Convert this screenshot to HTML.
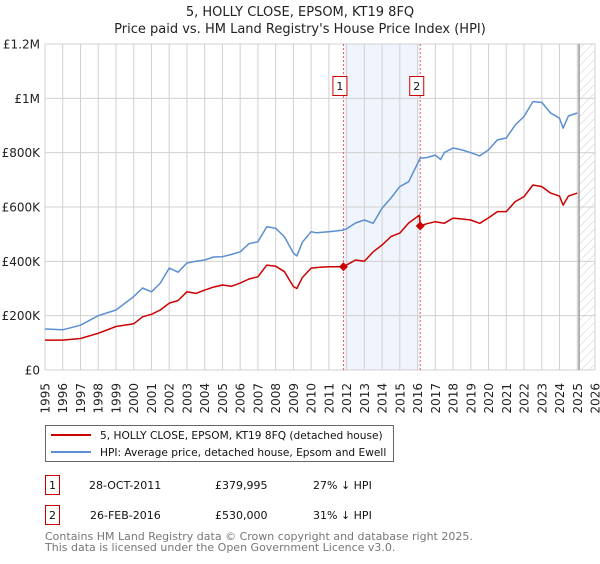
<!DOCTYPE html>
<html><head><meta charset="utf-8">
<style>
body{margin:0;background:#fff;width:600px;height:560px;overflow:hidden;font-family:"DejaVu Sans","Liberation Sans",sans-serif;}
svg text{font-family:"DejaVu Sans","Liberation Sans",sans-serif;}
</style></head>
<body>
<svg id="chart" width="600" height="560">
<defs>
<pattern id="hatch" width="6" height="6" patternUnits="userSpaceOnUse" patternTransform="rotate(45)">
<line x1="0" y1="0" x2="0" y2="6" stroke="#ccc" stroke-width="1"/>
</pattern>
</defs>
<text x="300" y="16" text-anchor="middle" font-size="13" fill="#222">5, HOLLY CLOSE, EPSOM, KT19 8FQ</text>
<text x="300" y="33" text-anchor="middle" font-size="13" fill="#222">Price paid vs. HM Land Registry's House Price Index (HPI)</text>
<g id="grid"></g>
<g id="marks"></g>
<g id="axes"></g>
<g>
<rect x="45.5" y="425.5" width="348" height="36" fill="#fff" stroke="#666"/>
<line x1="51" y1="435" x2="91" y2="435" stroke="#cc0000" stroke-width="2"/>
<text x="100" y="439" font-size="10.6" fill="#111">5, HOLLY CLOSE, EPSOM, KT19 8FQ (detached house)</text>
<line x1="51" y1="452" x2="91" y2="452" stroke="#5b8fd0" stroke-width="2"/>
<text x="100" y="456" font-size="10.6" fill="#111">HPI: Average price, detached house, Epsom and Ewell</text>
</g>
<g font-size="11" fill="#111">
<rect x="45.5" y="475.5" width="14" height="19" fill="#fff" stroke="#cc0000"/>
<text x="52.5" y="489" text-anchor="middle">1</text>
<text x="89" y="489">28-OCT-2011</text>
<text x="215" y="489">£379,995</text>
<text x="313" y="489">27% ↓ HPI</text>
<rect x="45.5" y="505.5" width="14" height="19" fill="#fff" stroke="#cc0000"/>
<text x="52.5" y="519" text-anchor="middle">2</text>
<text x="90" y="519">26-FEB-2016</text>
<text x="215" y="519">£530,000</text>
<text x="313" y="519">31% ↓ HPI</text>
</g>
<text x="45" y="540" font-size="11" fill="#777">Contains HM Land Registry data © Crown copyright and database right 2025.</text>
<text x="45" y="551" font-size="11" fill="#777">This data is licensed under the Open Government Licence v3.0.</text>
</svg>
<script>
const hpiYears=[1995,1996,1997,1998,1999,2000,2000.5,2001,2001.5,2002,2002.5,2003,2003.5,2004,2004.5,2005,2005.5,2006,2006.5,2007,2007.5,2008,2008.5,2009,2009.2,2009.5,2010,2010.3,2011,2011.8,2012,2012.5,2013,2013.5,2014,2014.5,2015,2015.5,2016.15,2016.5,2017,2017.3,2017.5,2018,2018.5,2019,2019.5,2020,2020.5,2021,2021.5,2022,2022.5,2023,2023.5,2024,2024.2,2024.5,2025];
const hpiValues=[151000,148000,165000,200000,221000,270000,302000,288000,320000,375000,360000,394000,400000,405000,416000,417000,425000,435000,465000,472000,527000,522000,490000,430000,420000,470000,509000,505000,509000,515000,520000,541000,552000,540000,596000,633000,675000,693000,780000,782000,791000,775000,800000,817000,810000,800000,788000,810000,847000,854000,902000,933000,988000,985000,946000,927000,890000,935000,946000];
const ppYears=[1995,1996,1997,1998,1999,2000,2000.5,2001,2001.5,2002,2002.5,2003,2003.5,2004,2004.5,2005,2005.5,2006,2006.5,2007,2007.5,2008,2008.5,2009,2009.2,2009.5,2010,2010.5,2011,2011.82,2012.5,2013,2013.5,2014,2014.5,2015,2015.5,2016.1,2016.15,2016.5,2017,2017.5,2018,2018.5,2019,2019.5,2020,2020.5,2021,2021.5,2022,2022.5,2023,2023.5,2024,2024.2,2024.5,2025];
const ppValues=[110000,110000,116000,135000,160000,170000,196000,205000,221000,246000,256000,288000,282000,294000,305000,313000,308000,320000,335000,343000,386000,382000,362000,307000,300000,340000,375000,378000,380000,379995,405000,400000,435000,460000,491000,504000,541000,570000,530000,538000,546000,540000,559000,556000,552000,540000,560000,583000,583000,620000,638000,681000,675000,651000,640000,607000,640000,651000];
const saleYears=[2011.82,2016.15];
const saleValues=[379995,530000];
const yTicks=[0,200000,400000,600000,800000,1000000,1200000];
const yTickLabels=["£0","£200K","£400K","£600K","£800K","£1M","£1.2M"];
const xTicks=[1995,1996,1997,1998,1999,2000,2001,2002,2003,2004,2005,2006,2007,2008,2009,2010,2011,2012,2013,2014,2015,2016,2017,2018,2019,2020,2021,2022,2023,2024,2025,2026];

const X0=45,X1=595,Y0=370,Y1=44;
const xs=y=>X0+(y-1995)/(2026-1995)*(X1-X0);
const ys=v=>Y0-v/1200000*(Y0-Y1);
const NS="http://www.w3.org/2000/svg";
function mk(parent,tag,attrs){const e=document.createElementNS(NS,tag);for(const k in attrs)e.setAttribute(k,attrs[k]);parent.appendChild(e);return e;}
const grid=document.getElementById('grid'),marks=document.getElementById('marks'),axes=document.getElementById('axes');

const band=mk(grid,'rect',{x:xs(saleYears[0]),y:Y1,width:xs(saleYears[1])-xs(saleYears[0]),height:Y0-Y1,fill:'#f0f4fc'});


const hx=xs(2025.1);
const hatch=mk(grid,'rect',{x:hx,y:Y1,width:X1-hx,height:Y0-Y1,fill:'url(#hatch)'});



xTicks.forEach(t=>{
  const l=mk(grid,'line',{x1:xs(t),x2:xs(t),y1:Y1,y2:Y0,stroke:'#d0d0d0','stroke-width':1});
  
  
  const tx=mk(axes,'text',{transform:`translate(${xs(t)+4.5},${383}) rotate(-90)`,'text-anchor':'end','font-size':12,fill:'#222'});
  tx.textContent=t;
  
  
});
yTicks.forEach((t,i)=>{
  const l=mk(grid,'line',{x1:X0,x2:X1,y1:ys(t),y2:ys(t),stroke:'#d0d0d0','stroke-width':1});
  
  
  const tx=mk(axes,'text',{x:40,y:ys(t)+4.5,'text-anchor':'end','font-size':12,fill:'#222'});
  tx.textContent=yTickLabels[i];
  
  
});
const fl=mk(grid,'line',{x1:hx,x2:hx,y1:Y1,y2:Y0,stroke:'#999','stroke-width':1.5});



saleYears.forEach((y,i)=>{
  const l=mk(marks,'line',{x1:xs(y),x2:xs(y),y1:Y1,y2:Y0,stroke:'#e06060','stroke-width':1,'stroke-dasharray':'2,2'});
  
  
  const g=mk(marks,'g',{});
  
  
  mk(g,'rect',{x:xs(y)-10.5,y:76.5,width:14,height:19,fill:'#fff',stroke:'#cc0000'});
  const t=mk(g,'text',{x:xs(y)-3.5,y:90,'text-anchor':'middle','font-size':11,fill:'#111'});
  t.textContent=i+1;
});

function path(xv,yv,color,name){
  const d=xv.map((x,i)=>(i?'L':'M')+xs(x).toFixed(1)+','+ys(yv[i]).toFixed(1)).join('');
  const p=mk(marks,'path',{d:d,fill:'none',stroke:color,'stroke-width':1.5,'stroke-linejoin':'round'});
  
  
}
path(hpiYears,hpiValues,'#5b8fd0','hpi-line');
path(ppYears,ppValues,'#cc0000','property-price-line');
saleYears.forEach((y,i)=>{
  const cx=xs(y),cy=ys(saleValues[i]);
  const d=mk(marks,'path',{d:`M${cx},${cy-4.5}L${cx+4.5},${cy}L${cx},${cy+4.5}L${cx-4.5},${cy}Z`,fill:'#cc0000'});
  
  
});
</script>
</body></html>
